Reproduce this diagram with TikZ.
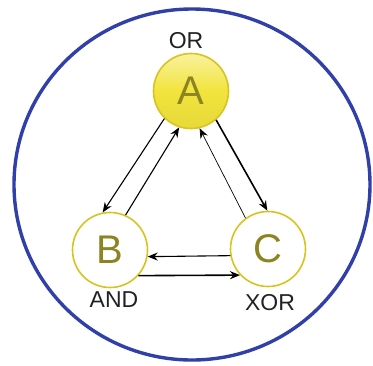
\documentclass[tikz,border=0pt]{standalone}
\usepackage{fontspec}
\setmainfont{Liberation Sans}
\usetikzlibrary{arrows.meta}
\definecolor{ringblue}{HTML}{3040A8}
\definecolor{ylw}{HTML}{F2E43C}
\definecolor{ylwb}{HTML}{D8C420}
\definecolor{olive}{HTML}{8C8420}
\definecolor{lbl}{HTML}{222222}
\begin{document}
\begin{tikzpicture}[x=1pt,y=-1pt,
  gate/.style={circle, minimum size=75pt, inner sep=0pt, draw=ylwb, line width=1.6pt,
    text=olive, font=\fontsize{40}{40}\selectfont},
  gatelbl/.style={text=lbl, font=\fontsize{23}{23}\selectfont, inner sep=0pt},
  conn/.style={line width=1.1pt, black, -{Stealth[length=10pt,width=8pt]}},
  connb/.style={conn, line width=1.6pt}]
\useasboundingbox (0,0) rectangle (373,365);
\draw[ringblue, line width=3.4pt] (192,184.5) ellipse [x radius=178, y radius=175.5];
\node[gate, top color=ylw!50!white, bottom color=ylw!95!black, middle color=ylw] (A) at (191,91) {A};
\node[gate, fill=white] (B) at (110,250) {B};
\node[gate, fill=white] (C) at (268,249) {C};
\node[gatelbl] (lor) at (186,41) {OR};
\node[gatelbl] (land) at (114,300) {AND};
\node[gatelbl] (lxor) at (270,303) {XOR};
\draw[conn] (A.226) -- (B.101);
\draw[conn] (B.66) -- (A.252);
\draw[connb] (A.311) -- (C.91);
\draw[conn, line width=0.7pt] (C.126) -- (A.283);
\draw[conn] (C.190) -- (B.350);
\draw[connb] (B.318) -- (C.223);
\end{tikzpicture}
\end{document}
